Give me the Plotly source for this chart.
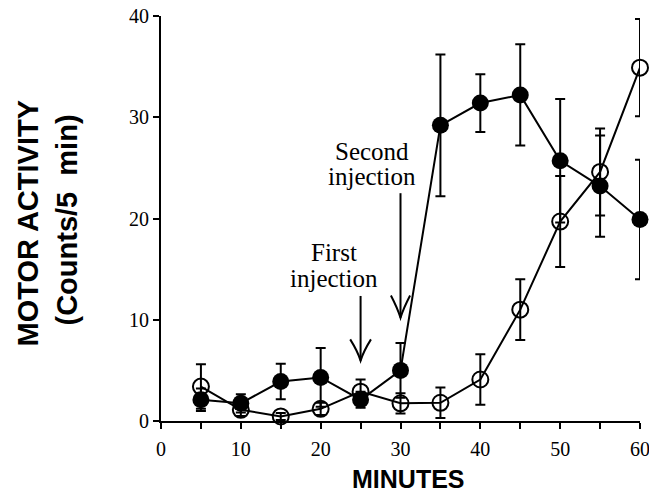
import plotly.graph_objects as go

minutes = [5, 10, 15, 20, 25, 30, 35, 40, 45, 50, 55, 60]
filled_mean = [2.1, 1.75, 3.9, 4.3, 2.1, 5.0, 29.2, 31.4, 32.2, 25.7, 23.2, 19.9]
filled_err = [1.1, 0.9, 1.75, 2.9, 0.8, 2.7, 7.0, 2.85, 5.0, 6.1, 5.0, 5.9]
open_mean = [3.4, 1.1, 0.45, 1.2, 2.9, 1.75, 1.8, 4.1, 11.0, 19.7, 24.6, 34.9]
open_err = [2.2, 0.6, 0.35, 0.6, 1.2, 1.0, 1.5, 2.5, 3.0, 4.5, 4.3, 4.8]

x_tickvals = [0, 5, 10, 15, 20, 25, 30, 35, 40, 45, 50, 55, 60]
x_ticktext = ["0", "", "10", "", "20", "", "30", "", "40", "", "50", "", "60"]
y_tickvals = [0, 10, 20, 30, 40]

injection_minutes = [25, 30]
injection_labels = [["First", "injection"], ["Second", "injection"]]

fig = go.Figure()

fig.add_trace(go.Scatter(
    x=minutes, y=open_mean, mode="lines+markers",
    line=dict(color="black", width=2),
    marker=dict(symbol="circle-open", size=16, color="black", line=dict(width=2, color="black")),
    error_y=dict(type="data", array=open_err, visible=True, color="black", thickness=2, width=5),
    cliponaxis=False, showlegend=False,
))
fig.add_trace(go.Scatter(
    x=minutes, y=filled_mean, mode="lines+markers",
    line=dict(color="black", width=2),
    marker=dict(symbol="circle", size=17, color="black"),
    error_y=dict(type="data", array=filled_err, visible=True, color="black", thickness=2, width=5),
    cliponaxis=False, showlegend=False,
))

# Injection arrows (stem + chevron head)
arrow_specs = [
    dict(x=injection_minutes[0], top=12.35, tip=5.96, arm_dx=1.3, arm_dy=2.1),
    dict(x=injection_minutes[1], top=22.5, tip=10.2, arm_dx=1.2, arm_dy=2.2),
]
for a in arrow_specs:
    x0 = a["x"]
    fig.add_shape(type="line", xref="x", yref="y", x0=x0, x1=x0, y0=a["top"], y1=a["tip"],
                  line=dict(color="black", width=2))
    path = (f"M {x0 - a['arm_dx']},{a['tip'] + a['arm_dy']} "
            f"Q {x0 - 0.35},{a['tip'] + 0.9} {x0},{a['tip']} "
            f"Q {x0 + 0.35},{a['tip'] + 0.9} {x0 + a['arm_dx']},{a['tip'] + a['arm_dy']}")
    fig.add_shape(type="path", xref="x", yref="y", path=path,
                  line=dict(color="black", width=2))

serif = "Liberation Serif"
label_pos = [
    dict(x=21.7, ys=[16.6, 14.1]),
    dict(x=26.4, ys=[26.6, 24.1]),
]
for lbl, pos in zip(injection_labels, label_pos):
    for text, yy in zip(lbl, pos["ys"]):
        fig.add_annotation(x=pos["x"], y=yy, xref="x", yref="y", text=text, showarrow=False,
                           xanchor="center", yanchor="middle",
                           font=dict(family=serif, size=25, color="black"))

sans = "Liberation Sans"
fig.add_annotation(x=0, y=0.5, xref="paper", yref="paper", text="<b>MOTOR ACTIVITY</b>",
                   showarrow=False, textangle=-90, xanchor="center", yanchor="middle",
                   xshift=-134, yshift=-5, font=dict(family=sans, size=29, color="black"))
fig.add_annotation(x=0, y=0.5, xref="paper", yref="paper", text="<b>(Counts/5  min)</b>",
                   showarrow=False, textangle=-90, xanchor="center", yanchor="middle",
                   xshift=-95, yshift=-2, font=dict(family=sans, size=29, color="black"))
fig.add_annotation(x=0.5, y=0, xref="paper", yref="paper", text="<b>MINUTES</b>",
                   showarrow=False, xanchor="center", yanchor="middle",
                   xshift=8, yshift=-58, font=dict(family=sans, size=25, color="black"))

axis_common = dict(showline=True, linecolor="black", linewidth=2, ticks="outside",
                   tickwidth=2, ticklen=6, tickcolor="black", showgrid=False, zeroline=False,
                   tickfont=dict(family=serif, size=20, color="black"), fixedrange=True,
                   ticklabeloverflow="allow", automargin=False)

fig.update_xaxes(range=[0, 60], tickmode="array", tickvals=x_tickvals, ticktext=x_ticktext,
                 ticklabelstandoff=3, **axis_common)
fig.update_yaxes(range=[0, 40], tickmode="array", tickvals=y_tickvals, **axis_common)

fig.update_layout(width=649, height=492, autosize=False,
                  margin=dict(l=161, r=9, t=16, b=71),
                  paper_bgcolor="white", plot_bgcolor="white")

fig.write_html("out.html")
